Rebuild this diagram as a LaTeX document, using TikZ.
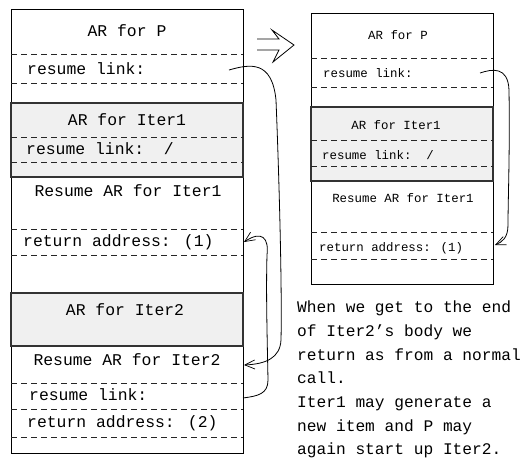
\documentclass[tikz,border=0pt]{standalone}
\usepackage{fontspec}
\newfontfamily\courfont{Liberation Mono}
\usetikzlibrary{arrows.meta}
\begin{document}
\begin{tikzpicture}[x=1pt,y=-1pt,
  box/.style={draw=black,line width=0.8pt},
  graybox/.style={draw=black!80,fill=black!6,line width=1.3pt},
  sep/.style={draw=black!85,line width=0.8pt,dash pattern=on 6pt off 4pt},
  big/.style={font=\courfont\fontsize{16.4}{19}\selectfont,inner sep=0pt,text height=0.75em,text depth=0.15em},
  small/.style={font=\courfont\fontsize{12.4}{15}\selectfont,inner sep=0pt,text height=0.75em,text depth=0.15em},
  para/.style={font=\courfont\fontsize{16.2}{19}\selectfont,inner sep=0pt,text height=0.75em,text depth=0.15em,anchor=west},
  link/.style={draw=black,line width=0.8pt,-{Straight Barb[length=10pt,width=9pt,line width=0.7pt]}}]
\useasboundingbox (0,0) rectangle (523,459);
\fill[white] (0,0) rectangle (523,459);

% ---------- left stack ----------
\draw[box] (11,9) rectangle (243,453);
\draw[graybox] (11,103) rectangle (243,177);
\draw[graybox] (11,293) rectangle (243,346);
\foreach \y in {54,83,137,162,229,255,383,409,437}
  \draw[sep] (11,\y) -- (243,\y);

\node[big] (lP) at (127,33) {AR for P};
\node[big,anchor=west] (lRL) at (27,71) {resume link:};
\node[big] (lI1) at (127,122) {AR for Iter1};
\node[big,anchor=west] (lRL1) at (26,151) {resume link:\ \ /};
\node[big] (lRes1) at (128,193) {Resume AR for Iter1};
\node[big,anchor=west] (lRA1) at (23,243) {return address: (1)};
\node[big] (lI2) at (125,312) {AR for Iter2};
\node[big] (lRes2) at (127,362) {Resume AR for Iter2};
\node[big,anchor=west] (lRL2) at (29,397) {resume link:};
\node[big,anchor=west] (lRA2) at (27,424) {return address: (2)};

% ---------- right stack ----------
\draw[box] (311,13) rectangle (493,284);
\draw[graybox] (311,107) rectangle (493,181);
\foreach \y in {58,87,140,166,232,259}
  \draw[sep] (311,\y) -- (493,\y);

\node[small] (rP) at (398,36) {AR for P};
\node[small,anchor=west] (rRL) at (323,74) {resume link:};
\node[small] (rI1) at (396,126) {AR for Iter1};
\node[small,anchor=west] (rRL1) at (322,156) {resume link:\ \ /};
\node[small] (rRes1) at (403,199) {Resume AR for Iter1};
\node[small,anchor=west] (rRA1) at (319,248) {return address: (1)};

% ---------- big open arrow ----------
\draw[line width=0.8pt,line join=miter]
  (257,39) -- (279,39) -- (272,30) -- (294,45) -- (273,62) -- (279,50) -- (257,50);

% ---------- connectors ----------
\coordinate (c1s) at (229,70);
\coordinate (c1e) at (244,365);
\coordinate (c2s) at (243,398);
\coordinate (c2e) at (244,242);
\coordinate (c3s) at (480,73);
\coordinate (c3e) at (495,245);

\draw[link] (c1s) .. controls (250,64) and (272,60) .. (276,100)
  .. controls (280,200) and (282,300) .. (281,340)
  .. controls (280,358) and (266,364) .. (c1e);
\draw[link] (c2s) .. controls (258,396) and (268,394) .. (268,380)
  .. controls (267,330) and (266,290) .. (267,255)
  .. controls (269,238) and (262,230) .. (c2e);
\draw[link] (c3s) .. controls (492,69) and (508,66) .. (509,90)
  .. controls (510,150) and (508,200) .. (508,225)
  .. controls (508,238) and (502,242) .. (c3e);

% ---------- explanation ----------
\node[para] (t1) at (297,309) {When we get to the end};
\node[para] (t2) at (297,333) {of Iter2’s body we};
\node[para] (t3) at (297,357) {return as from a normal};
\node[para] (t4) at (297,380) {call.};
\node[para] (t5) at (297,404) {Iter1 may generate a};
\node[para] (t6) at (297,428) {new item and P may};
\node[para] (t7) at (297,451) {again start up Iter2.};
\end{tikzpicture}
\end{document}
